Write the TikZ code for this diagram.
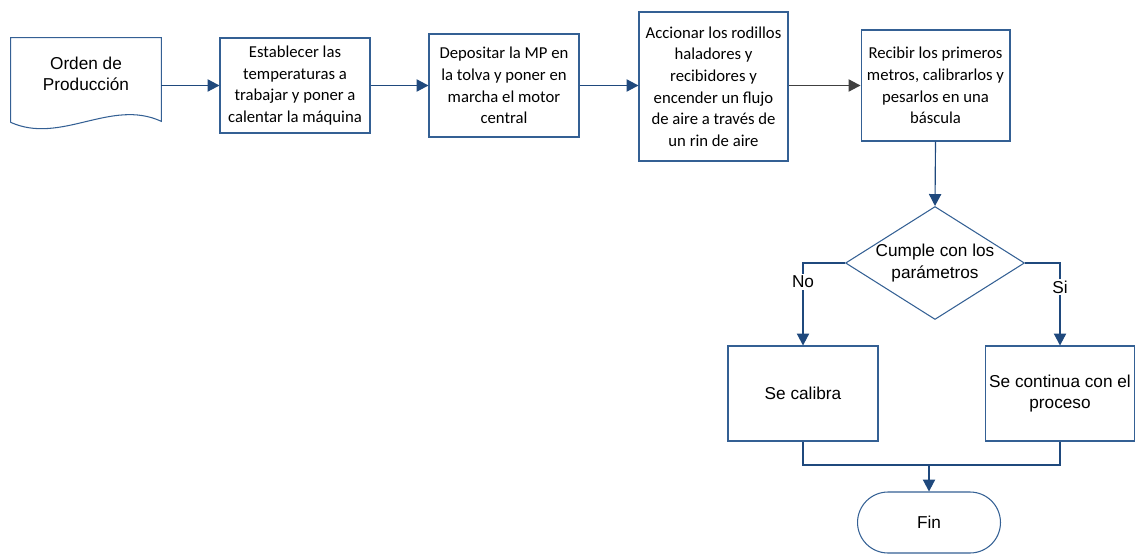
\documentclass[tikz,border=0pt]{standalone}
\usepackage{fontspec}
\setmainfont{Liberation Sans}
\newfontfamily\calibri{Carlito}
\usepackage{tikz}
\usetikzlibrary{arrows.meta,shapes.geometric,shapes.misc,calc}
\definecolor{borde}{RGB}{52,96,148}
\definecolor{azul}{RGB}{31,73,125}
\tikzset{caja/.style={draw=borde, line width=0.6pt, align=center, inner sep=2pt,
           font=\calibri\fontsize{9.5}{12.3}\selectfont},
         cajaA/.style={caja, font=\fontsize{9.8}{12.2}\selectfont},
         texto/.style={align=center, font=\fontsize{9.8}{12.2}\selectfont},
         linea/.style={draw=azul, line width=0.65pt},
         flecha/.style={linea, -{Triangle[length=6.8pt,width=7pt]}}}

\begin{document}
\begin{tikzpicture}[x=0.02cm,y=-0.02cm]
\useasboundingbox (0,0) rectangle (1135,554);

% documento de entrada
\node[minimum width=3cm, minimum height=1.68cm, inner sep=0] (orden) at (86,80) {};
\draw[borde, line width=0.6pt] (orden.south west) -- (orden.north west) -- (orden.north east)
      -- ($(orden.south east)+(0,-1)$) .. controls (111,98) and (61,145) .. (orden.south west);
\node[texto] (ordentxt) at (86,74) {Orden de\\Producción};

% pasos del proceso
\node[caja, minimum width=3cm, minimum height=1.9cm] (establecer) at (295,85.5)
      {Establecer las\\temperaturas a\\trabajar y poner a\\calentar la máquina};
\node[caja, minimum width=3cm, minimum height=2.06cm] (depositar) at (504,85.5)
      {Depositar la MP en\\la tolva y poner en\\marcha el motor\\central};
\node[caja, minimum width=2.98cm, minimum height=2.98cm] (accionar) at (713.5,86.5)
      {Accionar los rodillos\\haladores y\\recibidores y\\encender un flujo\\de aire a través de\\un rin de aire};
\node[caja, minimum width=2.98cm, minimum height=2.22cm] (recibir) at (935.5,85.5)
      {Recibir los primeros\\metros, calibrarlos y\\pesarlos en una\\báscula};

% decision
\node[draw=borde, line width=0.6pt, diamond, inner sep=0, minimum width=3.58cm,
      minimum height=2.26cm] (cumple) at (935,263) {};
\node[texto] (cumpletxt) at (935,263) {Cumple con los\\parámetros};

\node[cajaA, minimum width=3cm, minimum height=1.9cm] (calibra) at (803,393.5) {Se calibra};
\node[cajaA, minimum width=2.96cm, minimum height=1.9cm] (continua) at (1060,393.5)
      {Se continua con el\\proceso};
\node[cajaA, rounded rectangle, minimum width=3cm, minimum height=1.22cm] (fin) at (929,522.5) {Fin};
\coordinate (junta) at (929,465);

% conexiones
\draw[flecha] (orden.east |- establecer.west) -- (establecer.west);
\draw[flecha] (establecer.east) -- (depositar.west);
\draw[flecha] (depositar.east) -- (accionar.west |- depositar.east);
\draw[line width=0.65pt, draw=black!75, -{Triangle[length=6.8pt,width=7pt]}]
      (accionar.east |- recibir.west) -- (recibir.west);
\draw[flecha] (recibir.south) -- (cumple.north);
\draw[flecha] (cumple.west) -| node[texto, fill=white, pos=0.615, inner sep=1pt] (no) {No} (calibra.north);
\draw[flecha] (cumple.east) -| node[texto, fill=white, pos=0.645, inner sep=1pt] (si) {Si} (continua.north);
\draw[linea] (calibra.south) |- (junta) -| (continua.south);
\draw[flecha] (junta) -- (fin.north);
\end{tikzpicture}
\end{document}
